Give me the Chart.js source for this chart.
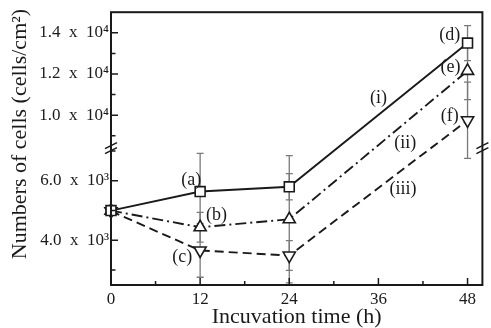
<!DOCTYPE html>
<html>
<head>
<meta charset="utf-8">
<script src="https://cdn.jsdelivr.net/npm/chart.js@4.4.0/dist/chart.umd.min.js"></script>
<style>
  html, body { margin: 0; padding: 0; background: #fff; }
  #wrap { width: 491px; height: 328px; }
</style>
</head>
<body>
<div id="wrap"><canvas id="cellChart"></canvas></div>
<script>
// incubation time (h)
const hours = [0, 12, 24, 48];
// cell density (cells/cm2)
const seriesI = [5000, 5640, 5800, 13500];
const seriesII = [5000, 4440, 4710, 12150];
const seriesIII = [4980, 3660, 3490, 9750];
// error bar half-lengths
const errI = [0, 1280, 440, 850];
const errII = [0, 500, 2140, 1400];
const errIII = [0, 900, 500, 1850];

const xTicks = [0, 6, 12, 18, 24, 30, 36, 42, 48];
const xMajor = [0, 12, 24, 36, 48];
const yMajor = [4000, 6000, 10000, 12000, 14000];
const yMajorLabels = ['4.0\u2002x\u200210³', '6.0\u2002x\u200210³', '1.0\u2002x\u200210⁴', '1.2\u2002x\u200210⁴', '1.4\u2002x\u200210⁴'];
const yMinor = [3000, 5000, 7000, 9000, 11000, 13000];

// point labels: text, hour, value
const tagText = ['(a)', '(b)', '(c)', '(d)', '(e)', '(f)', '(i)', '(ii)', '(iii)'];
const tagHour = [10.8, 14.2, 9.6, 45.6, 45.7, 45.6, 36.0, 39.6, 39.3];
const tagValue = [6030, 4850, 3440, 13900, 12330, 9950, 10830, 8640, 5720];

// broken y axis: two linear pieces stacked on one scale
const lowSeg = { min: 2500, max: 7100, h: 137 };
const highSeg = { min: 8400, max: 15000, h: 136 };
const CUT = 7750;

function toAxis(v, upper) {
  if (upper === undefined) upper = v > CUT;
  if (upper) return lowSeg.h + (v - highSeg.min) / (highSeg.max - highSeg.min) * highSeg.h;
  return (v - lowSeg.min) / (lowSeg.max - lowSeg.min) * lowSeg.h;
}

const serif = 'Liberation Serif, DejaVu Serif, serif';
const ink = '#1a1a1a';

function pts(vals) {
  return hours.map((h, i) => ({ x: h, y: toAxis(vals[i]) }));
}

function lineSet(vals, dash, style, rot) {
  return {
    data: pts(vals),
    borderColor: ink,
    borderWidth: 1.9,
    borderDash: dash,
    pointStyle: style,
    rotation: rot,
    pointRadius: 7,
    pointBorderWidth: 1.6,
    pointBackgroundColor: '#fff',
    pointBorderColor: ink,
    fill: false,
    tension: 0,
    clip: false
  };
}

const errSets = [[seriesI, errI], [seriesII, errII], [seriesIII, errIII]];

const decor = {
  id: 'decor',
  beforeDatasetsDraw(chart) {
    const ctx = chart.ctx, xs = chart.scales.x, ys = chart.scales.y;
    ctx.save();
    ctx.strokeStyle = '#7a7a7a';
    ctx.lineWidth = 1.3;
    errSets.forEach(([vals, errs]) => {
      vals.forEach((v, i) => {
        if (!errs[i]) return;
        const up = v > CUT;
        const px = xs.getPixelForValue(hours[i]);
        const y1 = ys.getPixelForValue(toAxis(v + errs[i], up));
        const y2 = ys.getPixelForValue(toAxis(v - errs[i], up));
        ctx.beginPath();
        ctx.moveTo(px, y1); ctx.lineTo(px, y2);
        ctx.moveTo(px - 3.5, y1); ctx.lineTo(px + 3.5, y1);
        ctx.moveTo(px - 3.5, y2); ctx.lineTo(px + 3.5, y2);
        ctx.stroke();
      });
    });
    ctx.restore();
  },
  afterDatasetsDraw(chart) {
    const ctx = chart.ctx, xs = chart.scales.x, ys = chart.scales.y;
    const a = chart.chartArea;
    ctx.save();
    ctx.strokeStyle = ink;
    ctx.lineWidth = 2;
    ctx.strokeRect(a.left, a.top, a.right - a.left, a.bottom - a.top);

    // inward ticks
    ctx.lineWidth = 1.5;
    ctx.beginPath();
    xTicks.forEach(t => {
      const px = xs.getPixelForValue(t);
      const len = xMajor.includes(t) ? 7 : 4;
      ctx.moveTo(px, a.bottom); ctx.lineTo(px, a.bottom - len);
    });
    yMajor.forEach(t => {
      const py = ys.getPixelForValue(toAxis(t));
      ctx.moveTo(a.left, py); ctx.lineTo(a.left + 7, py);
    });
    yMinor.forEach(t => {
      const py = ys.getPixelForValue(toAxis(t));
      ctx.moveTo(a.left, py); ctx.lineTo(a.left + 4.5, py);
    });
    ctx.stroke();

    // axis break marks
    const yb = ys.getPixelForValue(lowSeg.h);
    ctx.lineWidth = 1.6;
    ctx.beginPath();
    [a.left, a.right].forEach(xb => {
      [-2.5, 2.5].forEach(d => {
        ctx.moveTo(xb - 6, yb + d + 3);
        ctx.lineTo(xb + 6, yb + d - 3);
      });
    });
    ctx.stroke();

    // labels
    ctx.fillStyle = ink;
    ctx.font = '18px ' + serif;
    ctx.textAlign = 'center';
    ctx.textBaseline = 'middle';
    tagText.forEach((t, i) => {
      ctx.fillText(t, xs.getPixelForValue(tagHour[i]), ys.getPixelForValue(toAxis(tagValue[i])));
    });

    // y title
    ctx.font = '22px ' + serif;
    ctx.translate(20, 134);
    ctx.rotate(-Math.PI / 2);
    ctx.fillText('Numbers of cells (cells/cm²)', 0, 0);
    ctx.restore();
  }
};

const ctx = document.getElementById('cellChart').getContext('2d');
const cellChart = new Chart(ctx, {
  type: 'line',
  data: {
    datasets: [
      lineSet(seriesI, [], 'rect', 0),
      lineSet(seriesII, [11, 4, 2, 4], 'triangle', 0),
      lineSet(seriesIII, [9, 5], 'triangle', 180)
    ]
  },
  options: {
    responsive: true,
    maintainAspectRatio: false,
    animation: false,
    layout: { padding: { top: 12, right: 6, left: 0, bottom: 0 } },
    plugins: { legend: { display: false }, tooltip: { enabled: false } },
    scales: {
      x: {
        type: 'linear',
        min: 0,
        max: 50,
        afterBuildTicks: s => { s.ticks = xTicks.map(v => ({ value: v })); },
        afterFit: s => { s.height = 43; },
        grid: { display: false, drawTicks: false, tickLength: 0 },
        border: { display: false },
        ticks: {
          autoSkip: false,
          maxRotation: 0,
          padding: 4,
          color: ink,
          font: { family: serif, size: 17 },
          callback: v => (xMajor.includes(v) ? String(v) : '')
        },
        title: {
          display: true,
          text: 'Incuvation time (h)',
          color: ink,
          font: { family: serif, size: 22, lineHeight: 1 },
          padding: { top: 0, bottom: 0 }
        }
      },
      y: {
        type: 'linear',
        min: 0,
        max: lowSeg.h + highSeg.h,
        afterBuildTicks: s => {
          s.ticks = yMajor.map(v => ({ value: toAxis(v) }));
        },
        afterFit: s => { s.width = 111; },
        grid: { display: false, drawTicks: false, tickLength: 0 },
        border: { display: false },
        ticks: {
          autoSkip: false,
          padding: 2,
          color: ink,
          font: { family: serif, size: 17 },
          callback: (v, i) => yMajorLabels[i]
        }
      }
    }
  },
  plugins: [decor]
});
</script>
</body>
</html>
